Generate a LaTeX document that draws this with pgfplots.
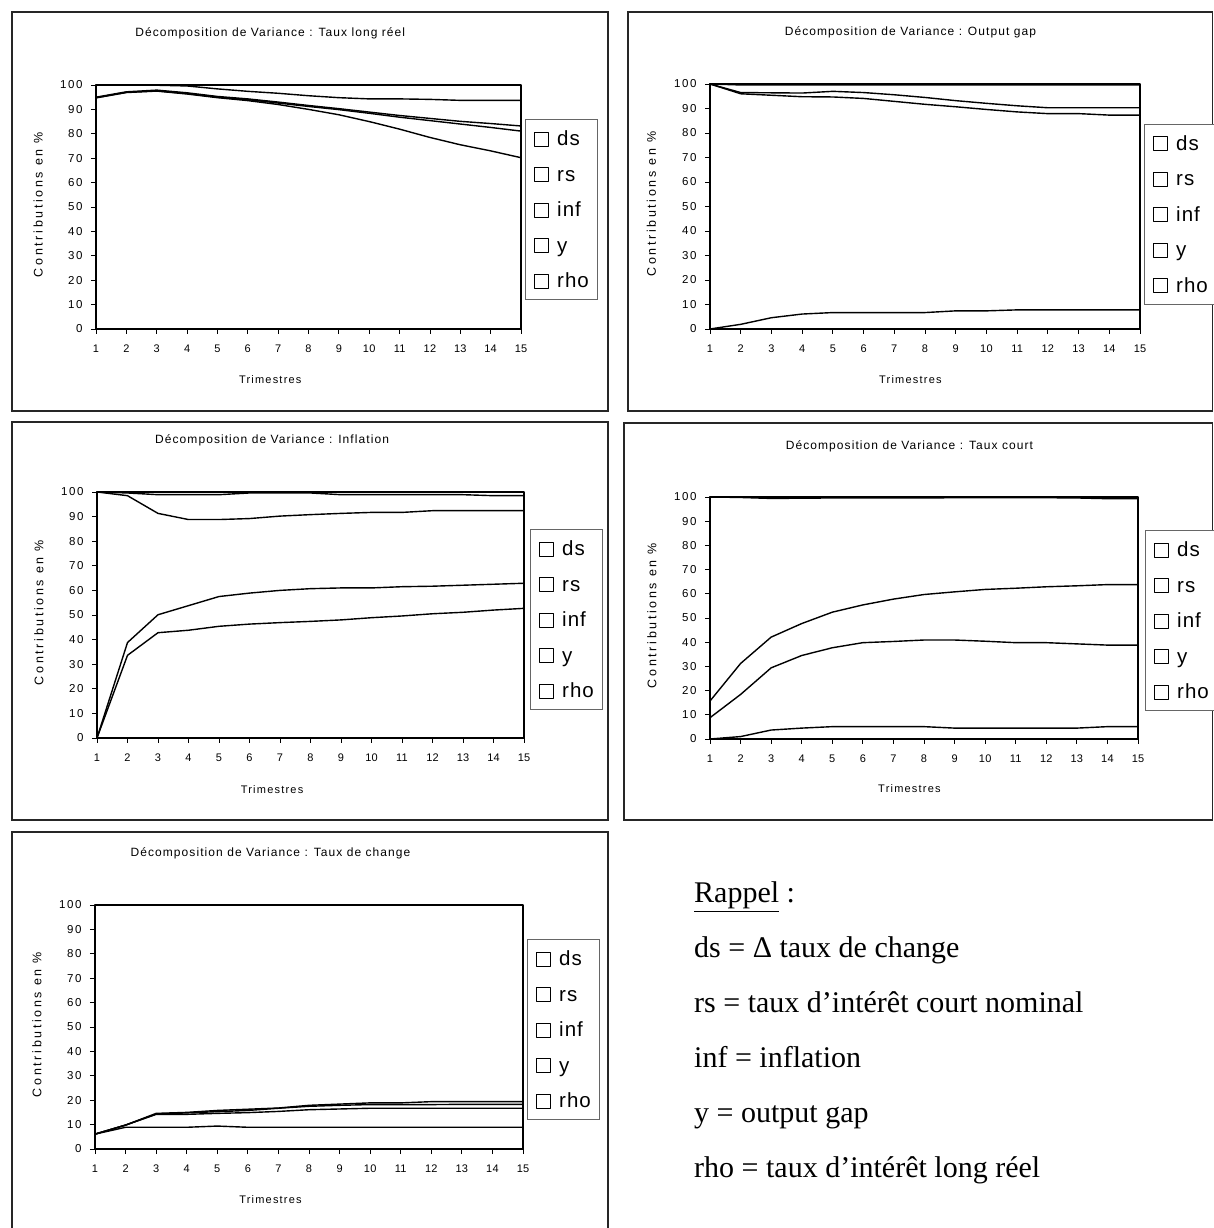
\documentclass[border=0pt]{standalone}
\usepackage{fontspec}
\setmainfont{Liberation Sans}
\newfontfamily\rappelfamily{Liberation Serif}
\newfontfamily\titlefamily[LetterSpace=9]{Liberation Sans}
\newfontfamily\labfamily[LetterSpace=11]{Liberation Sans}
\newfontfamily\ylabfamily[LetterSpace=21]{Liberation Sans}
\newfontfamily\xtickfamily[LetterSpace=2]{Liberation Sans}
\newfontfamily\ytickfamily[LetterSpace=14]{Liberation Sans}
\newfontfamily\legfamily[LetterSpace=5]{Liberation Sans}
\usepackage{pgfplots}
\usepackage{pgfplotstable}
\pgfplotsset{compat=1.18}

% cumulative boundaries of the stacked areas (top layer first)
\pgfplotstableread{
t ds rs inf y rho
1 100 100 95.0 94.8 94.7
2 100 100 97.2 97.0 96.9
3 100 99.9 97.9 97.6 97.5
4 100 99.6 96.8 96.5 96.3
5 100 98.4 95.3 95.0 94.8
6 100 97.4 94.3 94.0 93.6
7 100 96.6 93.0 92.6 92.0
8 100 95.6 91.6 91.2 90.0
9 100 94.8 90.3 89.9 87.8
10 100 94.3 88.9 88.4 85.0
11 100 94.3 87.5 86.8 81.9
12 100 94.1 86.3 85.4 78.5
13 100 93.7 85.1 84.0 75.5
14 100 93.7 84.2 82.6 73.0
15 100 93.7 83.2 81.1 70.2
}\tabA
\pgfplotstableread{
t ds rs inf y rho
1 100 100 100 100 0
2 100 99.6 96.5 96.0 1.9
3 100 99.6 96.4 95.4 4.6
4 100 99.6 96.3 94.8 6.1
5 100 99.6 97.0 94.7 6.7
6 100 99.6 96.5 94.1 6.7
7 100 99.6 95.6 92.9 6.7
8 100 99.6 94.5 91.7 6.7
9 100 99.6 93.2 90.7 7.4
10 100 99.6 92.1 89.6 7.4
11 100 99.6 91.1 88.6 7.8
12 100 99.6 90.3 87.9 7.8
13 100 99.6 90.3 87.9 7.8
14 100 99.6 90.3 87.3 7.8
15 100 99.6 90.3 87.3 7.8
}\tabB
\pgfplotstableread{
t ds rs inf y rho
1 100 100 100 0 0
2 100 99.6 98.5 38.8 33.6
3 100 98.9 91.3 50.1 42.8
4 100 98.9 88.8 53.8 43.8
5 100 98.9 88.8 57.5 45.4
6 100 99.6 89.2 58.9 46.3
7 100 99.6 90.2 60.0 46.9
8 100 99.6 90.8 60.7 47.4
9 100 98.9 91.3 61.0 48.0
10 100 98.9 91.7 61.0 48.9
11 100 98.9 91.7 61.5 49.6
12 100 98.9 92.4 61.7 50.5
13 100 98.9 92.4 62.1 51.1
14 100 98.5 92.4 62.5 52.0
15 100 98.5 92.4 62.9 52.7
}\tabC
\pgfplotstableread{
t ds rs inf y rho
1 100 100 15.7 8.8 0
2 100 99.8 31.2 18.4 1.0
3 100 99.4 42.1 29.4 3.7
4 100 99.5 47.7 34.5 4.5
5 100 99.6 52.4 37.7 5.1
6 100 99.6 55.4 39.8 5.1
7 100 99.6 57.8 40.3 5.1
8 100 99.6 59.7 40.9 5.1
9 100 99.7 60.8 40.9 4.5
10 100 99.7 61.8 40.4 4.5
11 100 99.7 62.3 39.8 4.5
12 100 99.7 62.9 39.8 4.5
13 100 99.6 63.3 39.3 4.5
14 100 99.3 63.8 38.8 5.1
15 100 99.3 63.8 38.8 5.1
}\tabD
\pgfplotstableread{
t ds rs inf y rho
1 100 6.1 6.1 6.1 6.1
2 100 9.8 9.8 9.8 8.9
3 100 14.6 14.3 14.2 8.9
4 100 15.0 14.8 14.2 8.9
5 100 15.8 15.3 14.6 9.4
6 100 16.3 15.8 14.9 8.9
7 100 16.8 16.7 15.4 8.9
8 100 17.9 17.5 16.1 8.9
9 100 18.4 17.9 16.4 8.9
10 100 18.9 18.2 16.7 8.9
11 100 18.9 18.2 16.7 8.9
12 100 19.4 18.2 16.7 8.9
13 100 19.4 18.3 16.7 8.9
14 100 19.4 18.3 16.7 8.9
15 100 19.4 18.3 16.7 8.9
}\tabE

\pgfplotsset{
  layer/.style={black, fill=none, line width=1.4pt, mark=none, line join=round},
  panel/.style={
    scale only axis, clip=false,
    xmin=1, xmax=15, ymin=0, ymax=100,
    xtick={1,...,15}, ytick={0,10,...,100},
    axis lines*=left,
    axis line style={black, line width=1pt},
    tick align=outside, major tick length=5pt,
    tick style={black, line width=0.8pt},
    /pgf/number format/assume math mode=true,
    xticklabel style={font=\xtickfamily\fontsize{11}{13}\selectfont, yshift=-7pt},
    yticklabel style={font=\ytickfamily\fontsize{11.5}{13}\selectfont, xshift=-5pt},
    title style={font=\titlefamily\fontsize{12}{14}\selectfont, anchor=center},
    xlabel={Trimestres}, ylabel={Contributions en \%},
    xlabel style={font=\labfamily\fontsize{11}{13}\selectfont, anchor=center},
    ylabel style={font=\ylabfamily\fontsize{12.5}{14}\selectfont, anchor=center,
      at={(axis description cs:-0.136,0.51)}},
    legend image code/.code={\draw[black,line width=0.7pt,fill=white] (0pt,-7pt) rectangle (14pt,7pt);},
    legend cell align=left,
    legend style={draw=black!60, line width=1pt, fill=white, font=\legfamily\fontsize{20.5}{22}\selectfont,
      anchor=west, at={(1,0.5)}, inner xsep=8pt, inner ysep=9pt, row sep=15.5pt,
      nodes={inner sep=1pt, text height=16pt, text depth=2pt},
      /tikz/every odd column/.append style={column sep=8pt}},
  },
  leftpanel/.style={panel,
    title style={at={(axis description cs:0.41,1.186)}},
    xlabel style={at={(axis description cs:0.41,-0.209)}}},
  rightpanel/.style={panel,
    title style={at={(axis description cs:0.466,1.186)}},
    xlabel style={at={(axis description cs:0.466,-0.205)}}},
}

\begin{document}
\begin{tikzpicture}[x=1pt,y=1pt]
\useasboundingbox (0,0) rectangle (1213,1228);
% panel frames
\draw[line width=1.2pt, black!85] (12,1216) rectangle (608,817);
\draw[line width=1.2pt, black!85] (628,1216) rectangle (1212.4,817);
\draw[line width=1.2pt, black!85] (12,806) rectangle (608,408);
\draw[line width=1.2pt, black!85] (624,805) rectangle (1212.4,408);
\draw[line width=1.2pt, black!85] (12,396) rectangle (608,-5);

% Panel 1
\begin{axis}[leftpanel, at={(96pt,899pt)}, anchor=south west, width=425pt, height=244pt,
  title={Décomposition de Variance : Taux long réel},
  legend style={xshift=4pt, yshift=-3pt}]
\addplot[layer] table[x=t,y=ds]{\tabA} \closedcycle;
\addplot[layer] table[x=t,y=rs]{\tabA} \closedcycle;
\addplot[layer] table[x=t,y=inf]{\tabA} \closedcycle;
\addplot[layer] table[x=t,y=y]{\tabA} \closedcycle;
\addplot[layer] table[x=t,y=rho]{\tabA} \closedcycle;
\legend{ds,rs,inf,y,rho}
\end{axis}

% Panel 2
\begin{axis}[rightpanel, at={(710pt,899pt)}, anchor=south west, width=430pt, height=245pt,
  title={Décomposition de Variance : Output gap},
  legend style={xshift=4pt, yshift=-8pt}]
\addplot[layer] table[x=t,y=ds]{\tabB} \closedcycle;
\addplot[layer] table[x=t,y=rs]{\tabB} \closedcycle;
\addplot[layer] table[x=t,y=inf]{\tabB} \closedcycle;
\addplot[layer] table[x=t,y=y]{\tabB} \closedcycle;
\addplot[layer] table[x=t,y=rho]{\tabB} \closedcycle;
\legend{ds,rs,inf,y,rho}
\end{axis}

% Panel 3
\begin{axis}[leftpanel, at={(97pt,490pt)}, anchor=south west, width=427pt, height=246pt,
  title={Décomposition de Variance : Inflation},
  legend style={xshift=6pt, yshift=-5pt}]
\addplot[layer] table[x=t,y=ds]{\tabC} \closedcycle;
\addplot[layer] table[x=t,y=rs]{\tabC} \closedcycle;
\addplot[layer] table[x=t,y=inf]{\tabC} \closedcycle;
\addplot[layer] table[x=t,y=y]{\tabC} \closedcycle;
\addplot[layer] table[x=t,y=rho]{\tabC} \closedcycle;
\legend{ds,rs,inf,y,rho}
\end{axis}

% Panel 4
\begin{axis}[rightpanel, at={(710pt,489pt)}, anchor=south west, width=428pt, height=242pt,
  title={Décomposition de Variance : Taux court},
  legend style={xshift=7pt, yshift=-3pt}]
\addplot[layer] table[x=t,y=ds]{\tabD} \closedcycle;
\addplot[layer] table[x=t,y=rs]{\tabD} \closedcycle;
\addplot[layer] table[x=t,y=inf]{\tabD} \closedcycle;
\addplot[layer] table[x=t,y=y]{\tabD} \closedcycle;
\addplot[layer] table[x=t,y=rho]{\tabD} \closedcycle;
\legend{ds,rs,inf,y,rho}
\end{axis}

% Panel 5
\begin{axis}[leftpanel, at={(95pt,79pt)}, anchor=south west, width=428pt, height=244pt,
  title={Décomposition de Variance : Taux de change},
  legend style={xshift=4pt, yshift=-3pt}]
\addplot[layer] table[x=t,y=ds]{\tabE} \closedcycle;
\addplot[layer] table[x=t,y=rs]{\tabE} \closedcycle;
\addplot[layer] table[x=t,y=inf]{\tabE} \closedcycle;
\addplot[layer] table[x=t,y=y]{\tabE} \closedcycle;
\addplot[layer] table[x=t,y=rho]{\tabE} \closedcycle;
\legend{ds,rs,inf,y,rho}
\end{axis}

% Rappel
\begin{scope}[every node/.style={anchor=base west, inner sep=0pt, font=\rappelfamily\fontsize{30}{36}\selectfont}]
\node at (694,325) {\underline{Rappel} :};
\node at (694,270) {ds = Δ taux de change};
\node at (694,215) {rs = taux d’intérêt court nominal};
\node at (694,160) {inf = inflation};
\node at (694,105) {y = output gap};
\node at (694,50) {rho = taux d’intérêt long réel};
\end{scope}
\end{tikzpicture}
\end{document}
